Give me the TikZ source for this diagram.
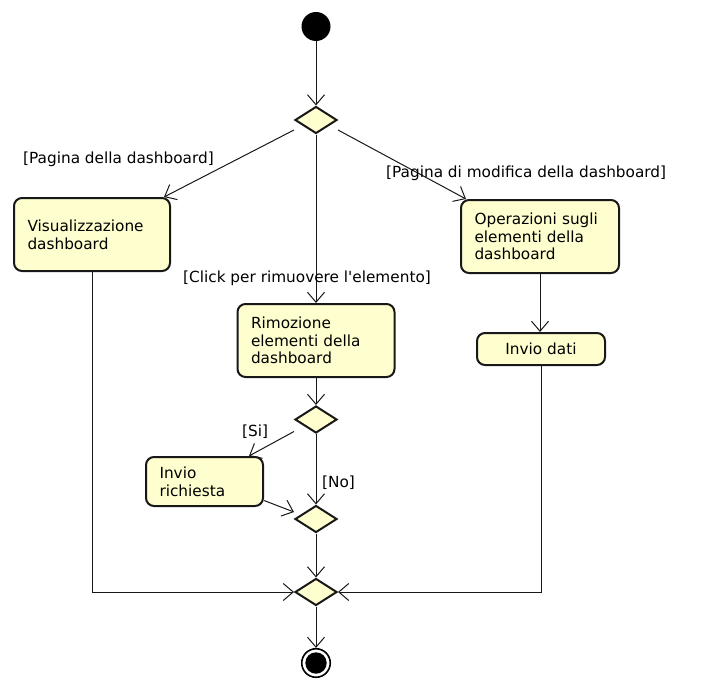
\documentclass[tikz,border=0pt]{standalone}
\usepackage{fontspec}
\setmainfont{DejaVu Sans}[Ligatures=TeXOff]
\usetikzlibrary{arrows.meta,shapes.geometric}

\begin{document}
\begin{tikzpicture}[x=1pt,y=-1pt,
  act/.style={draw=uml_line,fill=uml_fill,line width=2pt,rounded corners=8pt,
    align=left,inner xsep=13.5pt,inner ysep=0pt,font=\fontsize{15.3}{17.7}\selectfont},
  dec/.style={draw=uml_line,fill=uml_fill,line width=2pt,diamond,aspect=1.55,
    minimum width=42pt,minimum height=27pt,inner sep=0pt},
  guard/.style={anchor=base west,inner sep=0pt,font=\fontsize{15.3}{17.7}\selectfont},
  flow/.style={draw=uml_line,line width=1pt,-{Straight Barb[length=10pt,width=17pt]}},
  plain/.style={draw=uml_line,line width=1pt}]
\definecolor{uml_fill}{RGB}{254,254,206} %#FEFECE
\definecolor{uml_line}{RGB}{24,24,24}    %#181818

\useasboundingbox (0,0) rectangle (706,690);

\node [circle,fill=black,minimum size=29pt,inner sep=0pt] (start) at (316,26.5) {};
\node [dec] (d1) at (316,120) {};
\node [act,text width=129pt,minimum height=73pt] (vis) at (92,234.5) {Visualizzazione\\dashboard};
\node [act,text width=130pt,minimum height=73pt] (rim) at (316,340.5) {Rimozione\\elementi della\\dashboard};
\node [act,text width=131pt,minimum height=73pt] (ope) at (540,236.5) {Operazioni sugli\\elementi della\\dashboard};
\node [act,align=center,minimum width=128pt,minimum height=32pt] (dati) at (541,349) {Invio dati};
\node [dec] (d2) at (316,419.5) {};
\node [act,text width=90pt,minimum height=49pt] (ric) at (204.5,481.5) {Invio\\richiesta};
\node [dec] (d3) at (316,519) {};
\node [dec] (d4) at (316,592) {};
\node [circle,draw=black,line width=1.6pt,minimum size=28.5pt,inner sep=0pt,
  path picture={\fill[black] (path picture bounding box.center) circle (10.7pt);}] (stop) at (316,663) {};

\draw [flow] (start) -- (d1.north);
\draw [flow] ([yshift=-10pt]d1.west) -- ([xshift=-7pt]vis.north east);
\draw [flow] (d1.south) -- (rim.north);
\draw [flow] ([yshift=-10pt]d1.east) -- ([xshift=6pt]ope.north west);
\draw [flow] (ope.south) -- (ope.south |- dati.north);
\draw [flow] (rim.south) -- (d2.north);
\draw [flow] ([yshift=-12pt]d2.west) -- ([xshift=-15pt]ric.north east);
\draw [flow] ([yshift=-19pt]ric.east) -- ([yshift=7pt]d3.west);
\draw [flow] (d2.south) -- (d3.north);
\draw [flow] (d3.south) -- (d4.north);
\draw [flow] (vis.south) |- (d4.west);
\draw [flow] (dati.south) |- (d4.east);
\draw [flow] (d4.south) -- (stop.north);

\node [guard] (g_vis) at (23,163) {[Pagina della dashboard]};
\node [guard] (g_ope) at (386,177) {[Pagina di modifica della dashboard]};
\node [guard] (g_rim) at (183,282) {[Click per rimuovere l'elemento]};
\node [guard] (g_si) at (242,436) {[Si]};
\node [guard] (g_no) at (322,487) {[No]};

\end{tikzpicture}
\end{document}
